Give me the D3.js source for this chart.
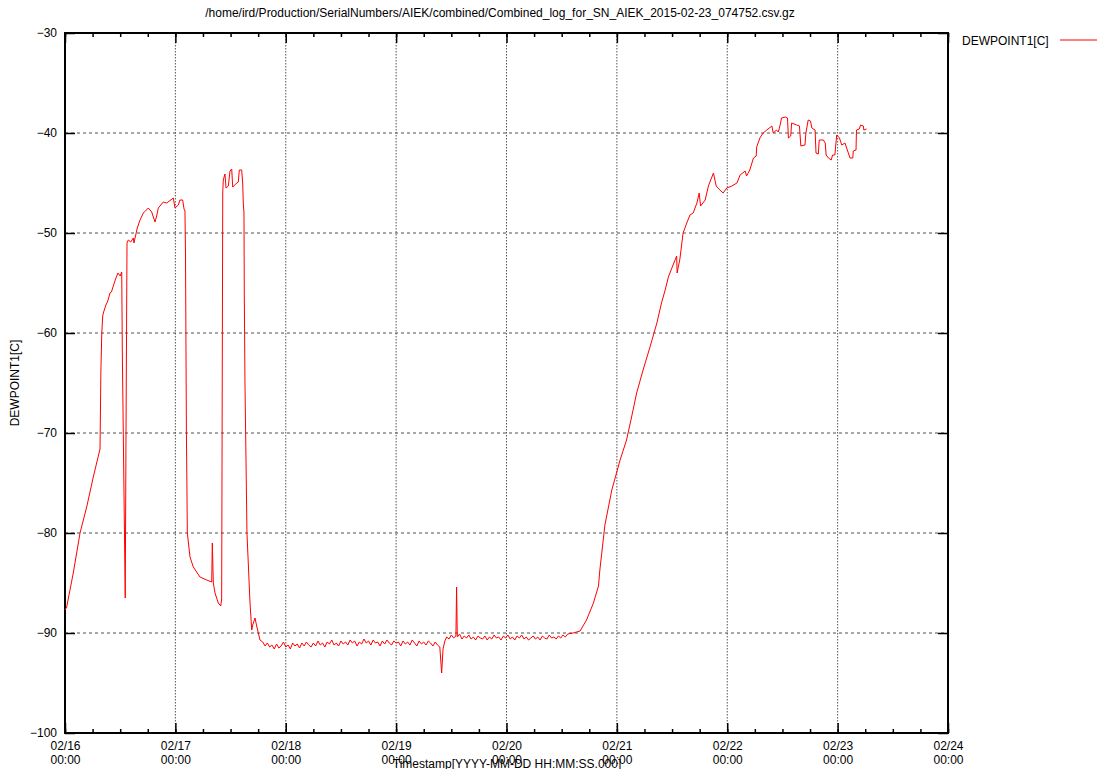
<!DOCTYPE html>
<html lang="en">
	<head>
		<meta charset="utf-8">
		<title>DEWPOINT1 log</title>
		<style type="text/css">
			body { margin: 0; background: #fff; }
			text { font-family: "Liberation Sans", Arial, sans-serif; font-size: 12px; fill: #000; }
		</style>
	</head>
	<body>
		<script src="https://d3js.org/d3.v7.min.js"></script>
		<script>
			//Width and height
			var w = 1097;
			var h = 769;
			var plotLeft = 65, plotRight = 948, plotTop = 33, plotBottom = 733;

			var title = "/home/ird/Production/SerialNumbers/AIEK/combined/Combined_log_for_SN_AIEK_2015-02-23_074752.csv.gz";
			var seriesName = "DEWPOINT1[C]";
			var xLabel = "Timestamp[YYYY-MM-DD HH:MM:SS.000]";
			var yTicks = [-100, -90, -80, -70, -60, -50, -40, -30];
			var startTime = new Date(2015, 1, 16, 0, 0);
			var endTime = new Date(2015, 1, 24, 0, 0);

			//Hours since 02/16 00:00
			var hours = [
				0, 0.37, 1.8, 3.26, 4.72, 6.15, 6.89, 7.3, 7.61, 7.8, 8.0, 8.2,
				8.33, 8.9, 9.3, 9.78, 10.1, 10.44, 11.0, 11.52, 12.0, 12.33, 12.46, 13.1, 13.26, 13.48,
				13.76, 14.3, 14.85, 15.0, 15.72, 16.31, 17.03, 18.11, 18.85, 19.57, 19.94, 20.29,
				21.37, 22.11, 23.55, 23.92, 24.64, 25.0, 25.59, 25.88, 26.09, 26.2, 26.4, 26.6,
				27.18, 27.9, 29.35, 30.81, 31.9, 32.03, 32.25, 32.62, 33.33, 33.86, 34.07, 34.3,
				34.42, 34.79, 35.01, 35.51, 35.88, 36.25, 36.47, 37.34, 37.68, 37.9, 38.42, 38.64,
				38.77, 38.92, 38.99, 39.14, 39.57, 40.23, 40.6, 40.81, 41.31, 41.68, 42.4,
				43, 43.5, 44, 44.5, 45, 45.5, 46, 46.5, 47, 47.5, 48, 48.5, 49, 49.5, 50, 50.5,
				51, 51.5, 52, 52.5, 53, 53.5, 54, 54.5, 55, 55.5, 56, 56.5, 57, 57.5, 58, 58.5,
				59, 59.5, 60, 60.5, 61, 61.5, 62, 62.5, 63, 63.5, 64, 64.5, 65, 65.5, 66, 66.5,
				67, 67.5, 68, 68.5, 69, 69.5, 70, 70.5, 71, 71.5, 72, 72.5, 73, 73.5, 74, 74.5,
				75, 75.5, 76, 76.5, 77, 77.5, 78, 78.5, 79, 79.5, 80, 80.5, 81, 81.5, 81.9, 82.2,
				82.6, 83, 83.5, 84, 84.5, 85, 85.15, 85.3, 85.8, 86.3, 86.8, 87.3, 87.8, 88.3,
				88.8, 89.3, 89.8, 90.3, 90.8, 91.3, 91.8, 92.3, 92.8, 93.3, 93.8, 94.3, 94.8,
				95.3, 95.8, 96.3, 96.8, 97.3, 97.8, 98.3, 98.8, 99.3, 99.8, 100.3, 100.8, 101.3,
				101.8, 102.3, 102.8, 103.3, 103.8, 104.3, 104.8, 105.3, 105.8, 106.3, 106.8,
				107.3, 107.8, 108.3, 108.8, 109.3, 110.5, 112, 113.4, 114.9, 116, 116.3, 117.4,
				118.9, 120.7, 122.1, 123.2, 124.3, 125.7, 127.2, 128.7, 129.7, 130.5, 131.2,
				132.3, 133, 133.1, 133.7, 134.4, 135.2, 135.9, 136.6, 137.4, 137.9, 138.2, 139.2,
				139.9, 141, 141.6, 142.4, 143.1, 143.9, 145, 146.1, 146.8, 147.9, 148.2, 148.9,
				149.7, 150.3, 150.4, 151.1, 151.8, 152.6, 153.7, 154, 154.7, 155.1, 155.5, 155.8,
				156.6, 157.1, 157.3, 157.8, 158, 159.1, 159.7, 160, 160.9, 161.1, 161.6, 162.1,
				162.4, 163.1, 163.3, 163.8, 164, 164.9, 165.3, 165.5, 166, 166.6, 166.9, 167.4,
				167.8, 168.4, 168.9, 169.6, 170.1, 170.7, 171.3, 171.4, 172, 172.1, 172.7, 173,
				173.6, 173.7, 174.3
			];

			var dewpoint = [
				-87.7, -87.4, -84.0, -80.0, -77.4, -74.4, -73.0, -72.2, -71.6, -64.0, -60.0, -58.3,
				-58.0, -57.2, -56.8, -56.0, -55.9, -55.4, -54.6, -54.0, -54.3, -53.9, -62.0, -86.5, -70.0, -51.0,
				-50.7, -50.9, -50.5, -51.0, -49.5, -48.7, -48.0, -47.5, -47.9, -48.9, -48.3, -47.5,
				-46.9, -47.0, -46.5, -47.5, -47.2, -46.7, -46.7, -47.6, -47.8, -52.0, -70.0, -80.0,
				-82.4, -83.4, -84.4, -84.7, -84.9, -81.0, -85.0, -86.0, -87.0, -87.3, -86.6, -46.0,
				-44.7, -44.1, -45.5, -45.3, -43.8, -43.6, -45.4, -45.0, -44.9, -43.7, -43.7, -45.0,
				-47.0, -48.0, -56.0, -65.0, -80.0, -87.0, -89.7, -89.2, -88.5, -89.3, -90.7,
				-90.9, -91.3, -91.0, -91.4, -91.2, -91.6, -91.1, -91.5, -91.3, -90.9, -91.4, -91.2, -91.6, -91.0, -91.3, -91.1,
				-91.5, -91.0, -91.3, -90.9, -91.2, -91.4, -91.0, -91.3, -90.8, -91.2, -91.0, -91.4, -90.9, -91.1, -90.7, -91.2,
				-91.0, -91.3, -90.8, -91.1, -90.9, -91.2, -90.7, -91.0, -90.8, -91.3, -90.9, -91.1, -90.6, -91.0, -90.8, -91.2,
				-90.7, -91.0, -90.9, -91.3, -90.8, -91.1, -90.7, -91.0, -91.2, -90.8, -91.0, -90.9, -91.3, -90.8, -91.1, -90.9,
				-91.2, -90.7, -91.0, -91.3, -90.8, -91.1, -90.9, -91.2, -90.8, -91.0, -91.3, -90.9, -91.2, -91.4, -94.0, -91.6,
				-90.8, -90.4, -90.6, -90.2, -90.5, -90.3, -85.4, -90.4, -90.1, -90.6, -90.3, -90.5, -90.2, -90.6,
				-90.4, -90.7, -90.3, -90.5, -90.6, -90.3, -90.7, -90.4, -90.6, -90.2, -90.5, -90.4, -90.7,
				-90.3, -90.5, -90.2, -90.6, -90.4, -90.7, -90.3, -90.5, -90.2, -90.6, -90.4, -90.7, -90.5,
				-90.3, -90.6, -90.4, -90.7, -90.3, -90.5, -90.6, -90.2, -90.5, -90.4, -90.6,
				-90.3, -90.5, -90.2, -90.4, -90.1, -90.0, -89.8, -88.7, -87.0, -85.3, -83.7, -79.2,
				-75.7, -72.7, -70.7, -68.4, -66.0, -63.7, -61.4, -59.0, -57.0, -55.7, -54.4,
				-53.1, -52.3, -54.0, -52.6, -50.0, -49.0, -48.2, -48.0, -47.0, -46.0, -47.3, -46.7,
				-45.3, -44.0, -45.3, -45.7, -46.0, -45.5, -45.3, -45.0, -44.2, -43.8, -44.3, -43.7,
				-42.5, -42.3, -41.4, -40.5, -40.0, -39.7, -39.3, -40.0, -39.7, -39.9, -39.2, -38.5,
				-38.4, -38.5, -40.5, -40.3, -39.0, -39.2, -39.3, -41.3, -41.2, -40.0, -38.7, -38.8,
				-39.5, -39.7, -42.0, -42.1, -40.7, -40.7, -41.0, -42.2, -42.5, -42.7, -42.2, -42.2,
				-40.2, -40.5, -41.2, -41.0, -41.7, -42.5, -42.5, -41.8, -41.7, -39.7, -39.6, -39.2,
				-39.3, -39.7, -39.6
			];

			var data = hours.map(function(hr, i) {
				return { t: d3.timeMinute.offset(startTime, Math.round(hr * 60)), v: dewpoint[i] };
			});

			var xScale = d3.scaleTime()
							.domain([startTime, endTime])
							.range([plotLeft, plotRight]);
			var yScale = d3.scaleLinear()
							.domain([-100, -30])
							.range([plotBottom, plotTop]);

			//Create SVG element
			var svg = d3.select("body")
						.append("svg")
						.attr("width", w)
						.attr("height", h);

			var dayTicks = d3.timeDay.range(startTime, d3.timeHour.offset(endTime, 1));

			//Grid lines
			svg.selectAll("line.hgrid")
			   .data(yTicks.slice(1, -1))
			   .enter()
			   .append("line")
			   .attr("x1", plotLeft).attr("x2", plotRight)
			   .attr("y1", function(d) { return yScale(d); })
			   .attr("y2", function(d) { return yScale(d); })
			   .attr("stroke", "#222")
			   .attr("stroke-width", 0.8)
			   .attr("stroke-dasharray", "3,3");
			svg.selectAll("line.vgrid")
			   .data(dayTicks.slice(1, -1))
			   .enter()
			   .append("line")
			   .attr("y1", plotTop).attr("y2", plotBottom)
			   .attr("x1", function(d) { return xScale(d); })
			   .attr("x2", function(d) { return xScale(d); })
			   .attr("stroke", "#555")
			   .attr("stroke-width", 1)
			   .attr("stroke-dasharray", "1.5,1.5");

			//Axes, ticks pointing inward
			var fmtDay = d3.timeFormat("%m/%d");
			var fmtTime = d3.timeFormat("%H:%M");

			svg.append("g")
			   .attr("transform", "translate(0," + plotBottom + ")")
			   .call(d3.axisBottom(xScale).ticks(d3.timeHour.every(6)).tickSize(-4).tickFormat(""));
			var xAxis = svg.append("g")
			   .attr("transform", "translate(0," + plotBottom + ")")
			   .call(d3.axisBottom(xScale).tickValues(dayTicks).tickSize(-10).tickPadding(6).tickFormat(""));
			xAxis.selectAll(".tick text")
			   .each(function(d) {
			   		var t = d3.select(this);
			   		t.append("tspan").attr("x", 0).attr("dy", "0.95em").text(fmtDay(d));
			   		t.append("tspan").attr("x", 0).attr("dy", "1.1em").text(fmtTime(d));
			   });

			svg.append("g")
			   .attr("transform", "translate(0," + plotTop + ")")
			   .call(d3.axisTop(xScale).ticks(d3.timeHour.every(6)).tickSize(-4).tickFormat(""));
			svg.append("g")
			   .attr("transform", "translate(0," + plotTop + ")")
			   .call(d3.axisTop(xScale).tickValues(dayTicks).tickSize(-10).tickFormat(""));

			svg.append("g")
			   .attr("transform", "translate(" + plotLeft + ",0)")
			   .call(d3.axisLeft(yScale).tickValues(yTicks).tickSize(-10).tickPadding(8).tickFormat(d3.format("d")));
			svg.append("g")
			   .attr("transform", "translate(" + plotRight + ",0)")
			   .call(d3.axisRight(yScale).tickValues(yTicks).tickSize(-10).tickFormat(""));

			svg.selectAll(".domain").remove();
			svg.selectAll(".tick line").attr("stroke", "#000").attr("stroke-width", 1.5);
			svg.selectAll(".tick text")
			   .attr("font-family", "Liberation Sans, Arial, sans-serif")
			   .attr("font-size", "12px")
			   .attr("fill", "#000");

			//Border
			svg.append("rect")
			   .attr("x", plotLeft).attr("y", plotTop)
			   .attr("width", plotRight - plotLeft).attr("height", plotBottom - plotTop)
			   .attr("fill", "none")
			   .attr("stroke", "#000")
			   .attr("stroke-width", 2);

			//Data line
			var line = d3.line()
						 .x(function(d) { return xScale(d.t); })
						 .y(function(d) { return yScale(d.v); });
			svg.append("path")
			   .datum(data)
			   .attr("d", line)
			   .attr("fill", "none")
			   .attr("stroke", "#ff0000")
			   .attr("stroke-width", 1);

			//Texts
			svg.append("text")
			   .attr("x", 500).attr("y", 17)
			   .attr("text-anchor", "middle")
			   .text(title);
			svg.append("text")
			   .attr("x", 507).attr("y", 768)
			   .attr("text-anchor", "middle")
			   .text(xLabel);
			svg.append("text")
			   .attr("transform", "translate(19," + ((plotTop + plotBottom) / 2) + ") rotate(-90)")
			   .attr("text-anchor", "middle")
			   .text(seriesName);

			//Legend
			svg.append("text")
			   .attr("x", 962).attr("y", 45)
			   .text(seriesName);
			svg.append("line")
			   .attr("x1", 1060).attr("x2", 1097)
			   .attr("y1", 40).attr("y2", 40)
			   .attr("stroke", "#ff0000")
			   .attr("stroke-width", 1);
		</script>
	</body>
</html>
